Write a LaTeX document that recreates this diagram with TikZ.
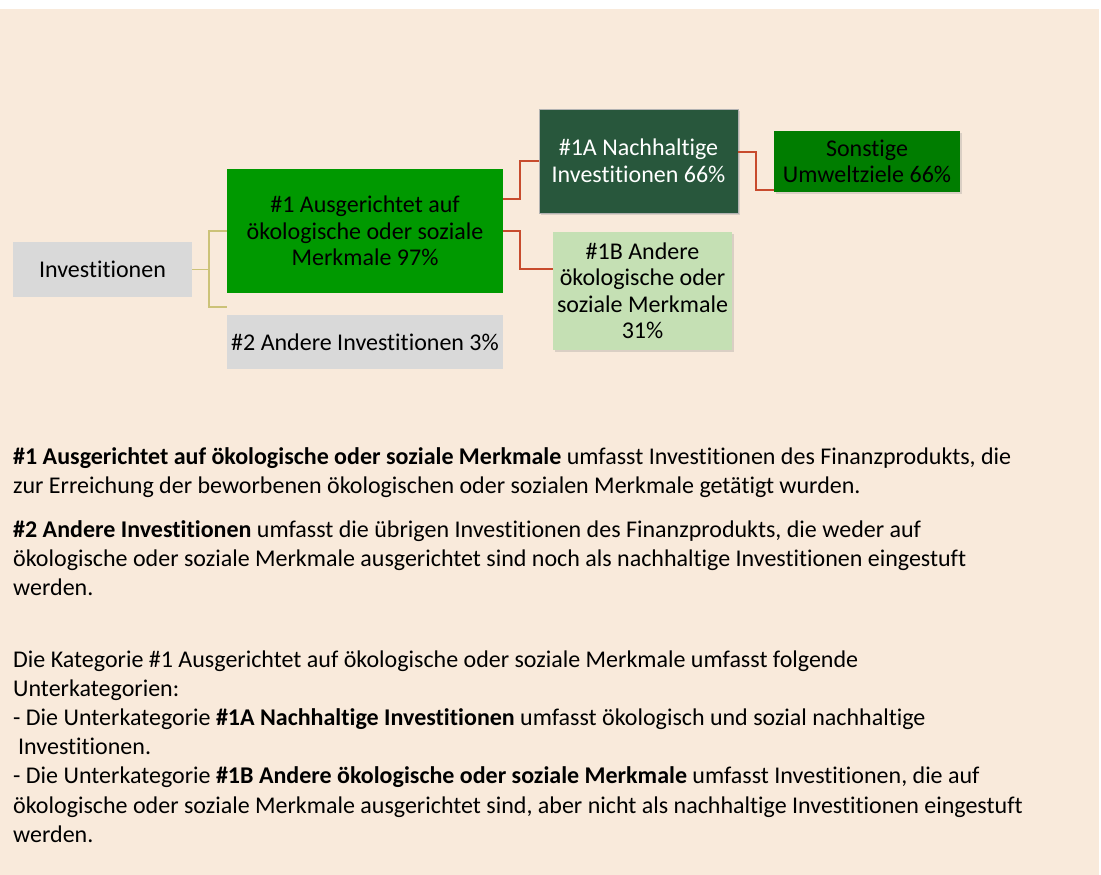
\documentclass[tikz,border=0pt]{standalone}
\usepackage{fontspec}
\setmainfont{Carlito}[RawFeature=-liga]
\usetikzlibrary{shadows,calc}
\definecolor{bgbeige}{RGB}{249,234,219}
\definecolor{greyfill}{RGB}{217,217,217}
\definecolor{midgreen}{RGB}{0,153,0}
\definecolor{darkgreen}{RGB}{40,87,60}
\definecolor{sgreen}{RGB}{0,125,0}
\definecolor{lightgreen}{RGB}{197,224,180}
\definecolor{olive}{RGB}{204,194,120}
\definecolor{redline}{RGB}{200,75,45}
\begin{document}
\begin{tikzpicture}[x=1pt,y=-1pt,
  box/.style={rectangle, inner sep=0pt, align=center, font=\fontsize{24}{26.5}\selectfont},
  shad/.style={drop shadow={opacity=0.25, shadow xshift=2pt, shadow yshift=-2pt}},
  body/.style={anchor=base west, inner sep=0pt, font=\fontsize{24}{29}\selectfont},
  oline/.style={draw=olive, line width=1.5pt},
  rline/.style={draw=redline, line width=1.5pt}]
\useasboundingbox (0,0) rectangle (1101,875);
\fill[white] (0,0) rectangle (1101,875);
\fill[bgbeige] (0,9) rectangle (1099,875);

\node[box, fill=greyfill, minimum width=179pt, minimum height=55pt] (inv) at (102.5,269.5) {Investitionen};
\node[box, fill=midgreen, minimum width=276pt, minimum height=124pt] (n1) at (365,231) {\#1 Ausgerichtet auf\\ökologische oder soziale\\Merkmale 97\%};
\node[box, fill=greyfill, minimum width=276pt, minimum height=54pt] (n2) at (365,342) {\#2 Andere Investitionen 3\%};
\node[box, shad, fill=darkgreen, draw=gray!60, text=white, minimum width=199pt, minimum height=104pt] (n1a) at (638.5,161) {\#1A Nachhaltige\\Investitionen 66\%};
\node[box, shad, fill=sgreen, minimum width=186pt, minimum height=61pt] (son) at (867,161.5) {Sonstige\\Umweltziele 66\%};
\node[box, shad, fill=lightgreen, minimum width=179pt, minimum height=118pt] (n1b) at (642.5,291) {\#1B Andere\\ökologische oder\\soziale Merkmale\\31\%};

\coordinate (c2) at (227,307);
\draw[oline] (inv.east) -- ++(17,0) |- (n1.west);
\draw[oline] (inv.east) -- ++(17,0) |- (c2);
\draw[rline] ([yshift=32pt]n1.east) -- ++(17,0) |- (n1a.west);
\draw[rline] (n1.east) -- ++(17,0) |- ([yshift=22pt]n1b.west);
\draw[rline] ([yshift=9pt]n1a.east) -- ++(18,0) |- ([yshift=-28.5pt]son.west);

\node[body] (p1a) at (13,464) {\textbf{\#1 Ausgerichtet auf ökologische oder soziale Merkmale} umfasst Investitionen des Finanzprodukts, die};
\node[body] (p1b) at (13,493) {zur Erreichung der beworbenen ökologischen oder sozialen Merkmale getätigt wurden.};
\node[body] (p2a) at (13,537) {\textbf{\#2 Andere Investitionen} umfasst die übrigen Investitionen des Finanzprodukts, die weder auf};
\node[body] (p2b) at (13,566) {ökologische oder soziale Merkmale ausgerichtet sind noch als nachhaltige Investitionen eingestuft};
\node[body] (p2c) at (13,595) {werden.};
\node[body] (p3a) at (13,667) {Die Kategorie \#1 Ausgerichtet auf ökologische oder soziale Merkmale umfasst folgende};
\node[body] (p3b) at (13,696) {Unterkategorien:};
\node[body] (p3c) at (13,725) {- Die Unterkategorie \textbf{\#1A Nachhaltige Investitionen} umfasst ökologisch und sozial nachhaltige};
\node[body] (p3d) at (18,754) {Investitionen.};
\node[body] (p3e) at (13,783) {- Die Unterkategorie \textbf{\#1B Andere ökologische oder soziale Merkmale} umfasst Investitionen, die auf};
\node[body] (p3f) at (13,813) {ökologische oder soziale Merkmale ausgerichtet sind, aber nicht als nachhaltige Investitionen eingestuft};
\node[body] (p3g) at (13,842) {werden.};
\end{tikzpicture}
\end{document}
